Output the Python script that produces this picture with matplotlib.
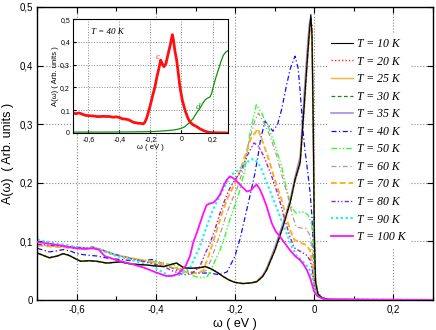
import matplotlib
matplotlib.use("Agg")
import matplotlib.pyplot as plt
from matplotlib.ticker import FuncFormatter, MultipleLocator

plt.rcParams['font.family'] = ['Liberation Sans', 'DejaVu Sans']

# frequency grid shared by the low temperature curves (10-35 K)
w_low = [-0.70, -0.685, -0.67, -0.65, -0.635, -0.62, -0.60, -0.59, -0.57, -0.55,
         -0.525, -0.49, -0.46, -0.43, -0.40, -0.38, -0.365, -0.348, -0.33, -0.31,
         -0.29, -0.275, -0.26, -0.245, -0.23, -0.215, -0.20, -0.18, -0.16, -0.145,
         -0.13, -0.12, -0.10, -0.08, -0.06, -0.048, -0.035, -0.025, -0.018, -0.012,
         -0.008, -0.005, -0.002, 0.001, 0.004, 0.01, 0.02, 0.035, 0.05, 0.30]
a_10 = [0.080, 0.076, 0.072, 0.075, 0.079, 0.076, 0.069, 0.066, 0.067, 0.066,
        0.063, 0.065, 0.061, 0.060, 0.058, 0.057, 0.060, 0.063, 0.055, 0.054,
        0.055, 0.057, 0.053, 0.047, 0.040, 0.034, 0.030, 0.028, 0.029, 0.031,
        0.040, 0.051, 0.083, 0.122, 0.167, 0.205, 0.235, 0.330, 0.400, 0.455,
        0.487, 0.450, 0.300, 0.100, 0.030, 0.010, 0.004, 0.001, 0.0, 0.0]
a_20 = [0.080, 0.076, 0.072, 0.075, 0.079, 0.076, 0.069, 0.066, 0.067, 0.066,
        0.063, 0.065, 0.061, 0.060, 0.058, 0.057, 0.060, 0.063, 0.055, 0.054,
        0.055, 0.057, 0.053, 0.047, 0.040, 0.034, 0.030, 0.028, 0.029, 0.031,
        0.040, 0.051, 0.082, 0.120, 0.165, 0.202, 0.232, 0.320, 0.390, 0.450,
        0.476, 0.470, 0.330, 0.120, 0.035, 0.012, 0.004, 0.001, 0.0, 0.0]
a_25 = [0.080, 0.076, 0.072, 0.075, 0.079, 0.076, 0.069, 0.066, 0.067, 0.066,
        0.063, 0.065, 0.061, 0.060, 0.058, 0.057, 0.060, 0.063, 0.055, 0.054,
        0.055, 0.057, 0.053, 0.047, 0.040, 0.034, 0.030, 0.028, 0.029, 0.031,
        0.040, 0.051, 0.083, 0.122, 0.167, 0.204, 0.233, 0.325, 0.395, 0.450,
        0.478, 0.455, 0.310, 0.110, 0.032, 0.011, 0.004, 0.001, 0.0, 0.0]
a_30 = [0.080, 0.076, 0.072, 0.075, 0.079, 0.076, 0.069, 0.066, 0.067, 0.066,
        0.063, 0.065, 0.061, 0.060, 0.058, 0.057, 0.060, 0.063, 0.055, 0.054,
        0.055, 0.057, 0.053, 0.047, 0.040, 0.034, 0.030, 0.028, 0.029, 0.031,
        0.040, 0.051, 0.083, 0.122, 0.167, 0.205, 0.235, 0.330, 0.400, 0.455,
        0.480, 0.460, 0.310, 0.110, 0.032, 0.011, 0.004, 0.001, 0.0, 0.0]
a_35 = [0.080, 0.076, 0.072, 0.075, 0.079, 0.076, 0.069, 0.066, 0.067, 0.066,
        0.063, 0.065, 0.061, 0.060, 0.058, 0.057, 0.060, 0.063, 0.055, 0.054,
        0.055, 0.057, 0.053, 0.047, 0.040, 0.034, 0.030, 0.028, 0.029, 0.032,
        0.042, 0.054, 0.088, 0.128, 0.172, 0.210, 0.245, 0.350, 0.420, 0.470,
        0.483, 0.440, 0.280, 0.090, 0.028, 0.010, 0.004, 0.001, 0.0, 0.0]

w_40 = [-0.70, -0.685, -0.67, -0.65, -0.635, -0.615, -0.60, -0.58, -0.55, -0.52,
        -0.49, -0.46, -0.43, -0.41, -0.39, -0.37, -0.348, -0.32, -0.29, -0.263,
        -0.24, -0.22, -0.20, -0.187, -0.175, -0.162, -0.15, -0.142, -0.135, -0.124,
        -0.115, -0.104, -0.092, -0.082, -0.07, -0.06, -0.048, -0.04, -0.035, -0.028,
        -0.023, -0.018, -0.01, -0.005, -0.002, 0.002, 0.008, 0.015, 0.03, 0.30]
a_40 = [0.088, 0.085, 0.082, 0.084, 0.086, 0.083, 0.079, 0.077, 0.075, 0.071,
        0.069, 0.067, 0.067, 0.069, 0.064, 0.058, 0.051, 0.048, 0.046, 0.046,
        0.043, 0.048, 0.075, 0.105, 0.140, 0.178, 0.215, 0.245, 0.275, 0.305,
        0.298, 0.288, 0.300, 0.325, 0.365, 0.395, 0.416, 0.395, 0.355, 0.290,
        0.256, 0.230, 0.184, 0.140, 0.088, 0.030, 0.012, 0.005, 0.001, 0.0]

w_50 = [-0.70, -0.68, -0.66, -0.64, -0.62, -0.60, -0.58, -0.56, -0.54, -0.52,
        -0.50, -0.47, -0.44, -0.41, -0.38, -0.35, -0.33, -0.31, -0.29, -0.27,
        -0.255, -0.238, -0.225, -0.213, -0.192, -0.175, -0.162, -0.146, -0.132, -0.116,
        -0.099, -0.082, -0.069, -0.056, -0.045, -0.035, -0.025, -0.015, -0.006, -0.002,
        0.002, 0.008, 0.015, 0.03, 0.30]
a_50 = [0.095, 0.093, 0.092, 0.093, 0.091, 0.089, 0.088, 0.090, 0.086, 0.080,
        0.077, 0.072, 0.069, 0.066, 0.063, 0.058, 0.050, 0.042, 0.038, 0.040,
        0.060, 0.085, 0.110, 0.137, 0.177, 0.222, 0.285, 0.333, 0.318, 0.296,
        0.265, 0.228, 0.188, 0.157, 0.148, 0.150, 0.150, 0.145, 0.128, 0.108,
        0.040, 0.015, 0.006, 0.001, 0.0]

w_60 = [-0.70, -0.66, -0.62, -0.58, -0.56, -0.54, -0.50, -0.46, -0.42, -0.38,
        -0.35, -0.33, -0.30, -0.285, -0.272, -0.26, -0.246, -0.233, -0.221, -0.209,
        -0.196, -0.18, -0.165, -0.15, -0.141, -0.125, -0.111, -0.094, -0.082, -0.066,
        -0.055, -0.045, -0.035, -0.02, -0.01, -0.004, 0.0, 0.008, 0.02, 0.03, 0.30]
a_60 = [0.094, 0.092, 0.090, 0.088, 0.089, 0.085, 0.076, 0.070, 0.065, 0.060,
        0.053, 0.048, 0.045, 0.046, 0.051, 0.070, 0.097, 0.122, 0.148, 0.168,
        0.188, 0.220, 0.270, 0.305, 0.319, 0.300, 0.279, 0.245, 0.214, 0.177,
        0.145, 0.125, 0.123, 0.122, 0.110, 0.080, 0.035, 0.012, 0.004, 0.001, 0.0]

w_70 = [-0.70, -0.66, -0.62, -0.58, -0.56, -0.54, -0.50, -0.46, -0.42, -0.38,
        -0.35, -0.33, -0.31, -0.29, -0.28, -0.267, -0.255, -0.242, -0.23, -0.217,
        -0.204, -0.19, -0.175, -0.16, -0.142, -0.13, -0.117, -0.099, -0.082, -0.07,
        -0.058, -0.05, -0.035, -0.02, -0.01, -0.004, 0.0, 0.008, 0.02, 0.03, 0.30]
a_70 = [0.093, 0.091, 0.089, 0.088, 0.090, 0.086, 0.077, 0.071, 0.066, 0.061,
        0.055, 0.049, 0.045, 0.047, 0.051, 0.075, 0.100, 0.128, 0.154, 0.176,
        0.194, 0.215, 0.245, 0.275, 0.292, 0.270, 0.245, 0.205, 0.171, 0.140,
        0.115, 0.103, 0.098, 0.094, 0.085, 0.060, 0.030, 0.010, 0.003, 0.001, 0.0]

w_80 = [-0.70, -0.66, -0.62, -0.58, -0.56, -0.54, -0.50, -0.46, -0.42, -0.38,
        -0.36, -0.33, -0.31, -0.289, -0.275, -0.263, -0.25, -0.238, -0.225, -0.213,
        -0.20, -0.185, -0.17, -0.152, -0.14, -0.127, -0.107, -0.09, -0.075, -0.062,
        -0.05, -0.035, -0.02, -0.01, -0.004, 0.0, 0.008, 0.02, 0.03, 0.30]
a_80 = [0.095, 0.093, 0.091, 0.089, 0.090, 0.086, 0.077, 0.070, 0.064, 0.057,
        0.050, 0.043, 0.045, 0.057, 0.080, 0.097, 0.122, 0.148, 0.172, 0.191,
        0.205, 0.220, 0.245, 0.268, 0.262, 0.245, 0.211, 0.177, 0.140, 0.110,
        0.089, 0.083, 0.077, 0.068, 0.050, 0.025, 0.010, 0.003, 0.001, 0.0]

w_90 = [-0.70, -0.68, -0.66, -0.64, -0.62, -0.60, -0.58, -0.56, -0.54, -0.52,
        -0.50, -0.47, -0.44, -0.41, -0.39, -0.365, -0.34, -0.314, -0.30, -0.289,
        -0.272, -0.258, -0.246, -0.233, -0.221, -0.208, -0.19, -0.175, -0.16, -0.15,
        -0.14, -0.132, -0.116, -0.099, -0.085, -0.07, -0.055, -0.045, -0.035, -0.02,
        -0.01, -0.004, 0.0, 0.008, 0.02, 0.03, 0.30]
a_90 = [0.103, 0.100, 0.097, 0.095, 0.093, 0.090, 0.088, 0.089, 0.085, 0.080,
        0.075, 0.070, 0.064, 0.058, 0.050, 0.041, 0.043, 0.054, 0.075, 0.091,
        0.125, 0.150, 0.168, 0.185, 0.200, 0.214, 0.222, 0.232, 0.240, 0.240,
        0.232, 0.222, 0.194, 0.165, 0.140, 0.115, 0.090, 0.076, 0.070, 0.060,
        0.050, 0.035, 0.020, 0.008, 0.003, 0.001, 0.0]

w_100 = [-0.70, -0.68, -0.66, -0.64, -0.62, -0.60, -0.58, -0.56, -0.545, -0.53,
         -0.50, -0.46, -0.43, -0.40, -0.375, -0.36, -0.345, -0.325, -0.314, -0.305,
         -0.297, -0.288, -0.28, -0.272, -0.262, -0.255, -0.246, -0.238, -0.228, -0.221,
         -0.213, -0.205, -0.195, -0.185, -0.17, -0.16, -0.152, -0.145, -0.138, -0.13,
         -0.12, -0.107, -0.097, -0.086, -0.073, -0.061, -0.048, -0.035, -0.026, -0.018,
         -0.01, -0.006, 0.0, 0.008, 0.02, 0.03, 0.30]
a_100 = [0.099, 0.097, 0.095, 0.093, 0.090, 0.088, 0.087, 0.088, 0.086, 0.075,
         0.068, 0.061, 0.055, 0.047, 0.041, 0.041, 0.044, 0.058, 0.075, 0.100,
         0.114, 0.132, 0.148, 0.162, 0.165, 0.166, 0.172, 0.180, 0.196, 0.205,
         0.211, 0.208, 0.202, 0.195, 0.185, 0.187, 0.193, 0.197, 0.190, 0.178,
         0.160, 0.131, 0.117, 0.108, 0.096, 0.085, 0.075, 0.068, 0.060, 0.051,
         0.038, 0.029, 0.015, 0.007, 0.003, 0.001, 0.0]

# inset: A(w) at T = 40 K, components c and d
w_c = [-0.70, -0.68, -0.66, -0.64, -0.62, -0.60, -0.57, -0.54, -0.50, -0.46,
       -0.44, -0.42, -0.40, -0.38, -0.36, -0.34, -0.31, -0.28, -0.26, -0.246,
       -0.235, -0.224, -0.203, -0.187, -0.171, -0.157, -0.143, -0.134, -0.124, -0.113,
       -0.1, -0.085, -0.07, -0.059, -0.052, -0.042, -0.031, -0.02, -0.01, 0.005,
       0.023, 0.04, 0.055, 0.075, 0.098, 0.12, 0.141, 0.16, 0.184, 0.22, 0.30]
a_c = [0.086, 0.085, 0.088, 0.083, 0.078, 0.076, 0.075, 0.072, 0.073, 0.072,
       0.069, 0.071, 0.068, 0.062, 0.061, 0.058, 0.047, 0.043, 0.042, 0.040,
       0.048, 0.066, 0.116, 0.160, 0.202, 0.250, 0.291, 0.320, 0.305, 0.291,
       0.305, 0.350, 0.393, 0.432, 0.410, 0.360, 0.320, 0.260, 0.203, 0.145,
       0.100, 0.068, 0.048, 0.036, 0.028, 0.018, 0.011, 0.006, 0.002, 0.001, 0.0]
w_d = [-0.70, -0.50, -0.30, -0.20, -0.16, -0.10, -0.053, -0.02, 0.001, 0.02,
       0.034, 0.05, 0.065, 0.076, 0.09, 0.105, 0.119, 0.135, 0.152, 0.165,
       0.184, 0.195, 0.205, 0.22, 0.237, 0.255, 0.27, 0.285, 0.298]
a_d = [0.004, 0.004, 0.005, 0.006, 0.007, 0.010, 0.013, 0.017, 0.021, 0.027,
       0.035, 0.045, 0.056, 0.064, 0.080, 0.095, 0.108, 0.128, 0.145, 0.152,
       0.158, 0.175, 0.203, 0.240, 0.276, 0.315, 0.342, 0.355, 0.361]

temps = [10, 20, 25, 30, 35, 40, 50, 60, 70, 80, 90, 100]
curves = [(w_low, a_10), (w_low, a_20), (w_low, a_25), (w_low, a_30),
          (w_low, a_35), (w_40, a_40), (w_50, a_50), (w_60, a_60),
          (w_70, a_70), (w_80, a_80), (w_90, a_90), (w_100, a_100)]
styles = [
    dict(color='black', ls='-', lw=0.8, zorder=2.6),
    dict(color='#ff2020', ls=(0, (1, 1.5)), lw=1.0),
    dict(color='#ffb030', ls='-', lw=1.0),
    dict(color='#109010', ls=(0, (3, 2)), lw=0.9),
    dict(color='#a080e0', ls='-', lw=1.1, zorder=1.9),
    dict(color='#1010ff', ls=(0, (4, 2, 1, 2)), lw=0.9),
    dict(color='#30ff30', ls=(0, (4, 1.5, 1, 1.5, 1, 1.5)), lw=1.0),
    dict(color='#c09090', ls=(0, (4, 2, 1, 2)), lw=0.9),
    dict(color='#ffb020', ls=(0, (3, 1.5)), lw=1.4),
    dict(color='#9a20d8', ls=(0, (3, 1.5, 1, 1.5, 1, 1.5)), lw=1.0),
    dict(color='#20f0f0', ls=(0, (1, 1.2)), lw=1.6),
    dict(color='#ff10ff', ls='-', lw=1.3, zorder=2.7),
]


def comma(v, pos):
    return ('%g' % round(v, 3)).replace('.', ',')


fig = plt.figure(figsize=(4.36, 3.30), dpi=100)
ax = fig.add_axes([0.086, 0.091, 0.906, 0.888])

for (w, a), t, st in zip(curves, temps, styles):
    ax.plot(w, a, label='T = %d K' % t, **st)

ax.set_xlim(-0.7, 0.3)
ax.set_ylim(0, 0.5)
ax.xaxis.set_major_locator(MultipleLocator(0.2))
ax.xaxis.set_minor_locator(MultipleLocator(0.1))
ax.yaxis.set_major_locator(MultipleLocator(0.1))
ax.xaxis.set_major_formatter(FuncFormatter(comma))
ax.yaxis.set_major_formatter(FuncFormatter(comma))
ax.tick_params(which='both', direction='in', top=True, right=True, labelsize=7)
ax.tick_params(which='major', length=4, width=0.8)
ax.tick_params(which='minor', length=3, width=0.8)
ax.grid(True, which='major', color='#888888', ls=':', lw=0.8)
for s in ax.spines.values():
    s.set_linewidth(1.0)
ax.set_xlabel('ω ( eV )', fontsize=9, labelpad=2)
ax.set_ylabel('Ã(ω)  ( Arb. units )', fontsize=9, labelpad=4)

leg = ax.legend(loc='upper left', bbox_to_anchor=(0.732, 0.91), borderaxespad=0,
                frameon=True, fancybox=False, edgecolor='none', facecolor='white',
                framealpha=1.0, handlelength=1.8, handletextpad=0.4,
                labelspacing=0.47, borderpad=0.4,
                prop=dict(family='Liberation Serif', style='italic', size=8.5))
leg.set_zorder(5)

# inset
ins = fig.add_axes([0.167, 0.597, 0.356, 0.345])
ins.plot(w_d, a_d, color='#109010', lw=0.9)
ins.plot(w_c, a_c, color='#ff1010', lw=2.0)
ins.set_xlim(-0.7, 0.3)
ins.set_ylim(0, 0.5)
ins.xaxis.set_major_locator(MultipleLocator(0.2))
ins.yaxis.set_major_locator(MultipleLocator(0.1))
ins.xaxis.set_major_formatter(FuncFormatter(comma))
ins.yaxis.set_major_formatter(FuncFormatter(comma))
ins.tick_params(direction='in', length=2, labelsize=5, pad=2)
ins.grid(True, color='#888888', ls=':', lw=0.7)
ins.set_xlabel('ω ( eV )', fontsize=5.5, labelpad=1)
ins.set_ylabel('A(ω) ( Arb. units )', fontsize=5.5, labelpad=1)
ins.text(0.12, 0.886, 'T = 40 K', transform=ins.transAxes, ha='left', va='center',
         family='Liberation Serif', style='italic', fontsize=6.5)
ins.text(-0.152, 0.333, 'c', color='#ff3030', family='Liberation Serif',
         style='italic', fontsize=6.5, ha='center', va='center')
ins.text(0.104, 0.115, 'd', color='#109010', family='Liberation Serif',
         style='italic', fontsize=6.5, ha='center', va='center')

fig.savefig('out.png', dpi=100)
